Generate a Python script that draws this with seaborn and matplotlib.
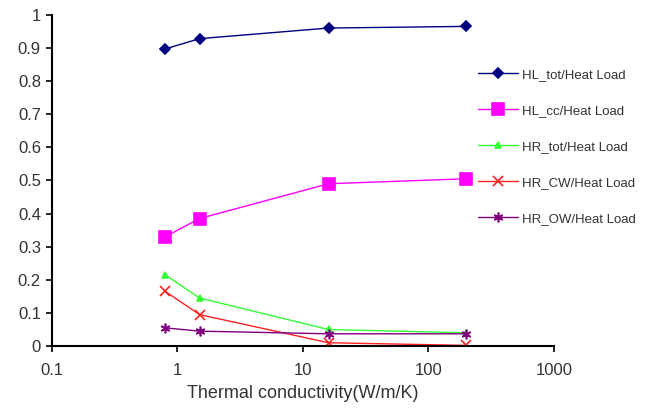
import matplotlib
matplotlib.use("Agg")
import matplotlib.pyplot as plt
import matplotlib.ticker as mticker
import seaborn as sns
import pandas as pd

conductivity = [0.8, 1.5, 16, 200]
hl_tot = [0.897, 0.928, 0.960, 0.965]
hl_cc = [0.330, 0.385, 0.490, 0.505]
hr_tot = [0.215, 0.145, 0.050, 0.040]
hr_cw = [0.165, 0.095, 0.010, 0.002]
hr_ow = [0.055, 0.045, 0.037, 0.037]

series_names = ["HL_tot/Heat Load", "HL_cc/Heat Load", "HR_tot/Heat Load",
                "HR_CW/Heat Load", "HR_OW/Heat Load"]
series_values = [hl_tot, hl_cc, hr_tot, hr_cw, hr_ow]
colors = ["#000080", "#FF00FF", "#33FF33", "#FF2020", "#800080"]
markers = ["D", "s", "^", "x", (6, 2, 0)]
msizes = [5, 8, 5, 7, 7]

sns.set_style("white")
plt.rcParams["font.family"] = ["Liberation Sans", "DejaVu Sans"]

fig = plt.figure(figsize=(6.5, 4.11), dpi=100)
ax = fig.add_axes([0.08, 0.158, 0.772, 0.806])

for name, vals, c, m, ms in zip(series_names, series_values, colors, markers, msizes):
    df = pd.DataFrame({"k": conductivity, "v": vals})
    sns.lineplot(data=df, x="k", y="v", ax=ax, color=c, marker=m, markersize=ms,
                 markeredgecolor=c, markerfacecolor=c, markeredgewidth=1.2,
                 linewidth=1.0, label=name)

ax.set_xscale("log")
ax.set_xlim(0.1, 1000)
ax.set_ylim(0, 1)
ax.set_xticks([0.1, 1, 10, 100, 1000])
ax.set_xticklabels(["0.1", "1", "10", "100", "1000"])
ax.xaxis.set_minor_locator(mticker.NullLocator())
ax.set_yticks([i / 10 for i in range(11)])
ax.set_yticklabels(["0", "0.1", "0.2", "0.3", "0.4", "0.5", "0.6", "0.7", "0.8", "0.9", "1"])
ax.tick_params(axis="both", which="major", direction="out", length=4, width=1.2,
               labelsize=12, color="black", bottom=True, left=True, labelcolor="#333333")
ax.tick_params(axis="x", pad=8)
ax.tick_params(axis="y", pad=4)
for s in ["top", "right"]:
    ax.spines[s].set_visible(False)
for s in ["left", "bottom"]:
    ax.spines[s].set_color("black")
    ax.spines[s].set_linewidth(1.5)
ax.set_xlabel("Thermal conductivity(W/m/K)", fontsize=13, labelpad=5, color="#333333")
ax.set_ylabel("")

leg = ax.legend(loc="upper left", bbox_to_anchor=(0.736, 0.833), bbox_transform=fig.transFigure,
                frameon=False, fontsize=9.5, labelspacing=1.8, handlelength=3.0,
                handletextpad=0.3, borderaxespad=0, borderpad=0)
for t in leg.get_texts():
    t.set_color("#333333")

fig.savefig("out.png", dpi=100)
